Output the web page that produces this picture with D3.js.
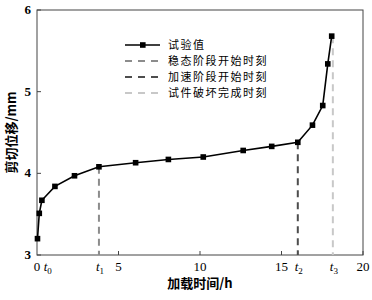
<!DOCTYPE html>
<html>
<head>
<meta charset="utf-8">
<script src="https://cdn.jsdelivr.net/npm/d3@7"></script>
<style>
body { margin: 0; background: #fff; }
text { font-family: "Liberation Serif", "DejaVu Serif", serif; }
.cjk { font-family: "Noto Sans CJK SC", sans-serif; }
</style>
</head>
<body>
<div id="chart"></div>
<script>
// test data: loading time (h) vs shear displacement (mm)
var timeH = [0.03, 0.14, 0.3, 1.1, 2.3, 3.8, 6.05, 8.06, 10.2, 12.65, 14.4, 16.0, 16.9, 17.53, 17.84, 18.08];
var dispMM = [3.2, 3.51, 3.67, 3.84, 3.97, 4.08, 4.13, 4.17, 4.2, 4.28, 4.33, 4.38, 4.59, 4.83, 5.34, 5.68];

// stage moments
var stageNames = ['稳态阶段开始时刻', '加速阶段开始时刻', '试件破坏完成时刻'];
var stageTimes = [3.8, 16.0, 18.15];
var stageTop = [4.08, 4.38, 5.68];
var stageColors = ['#8c8c8c', '#4d4d4d', '#c8c8c8'];

var xTicks = [5, 10, 15, 20];
var yTicks = [3, 4, 5, 6];
var tLabels = [{ t: 0.6, sub: '0' }, { t: 3.8, sub: '1' }, { t: 16.0, sub: '2' }, { t: 18.15, sub: '3' }];

var width = 372, height = 300;
var margin = { left: 37, right: 9, top: 10, bottom: 45 };

var svg = d3.select('#chart').append('svg')
    .attr('width', width)
    .attr('height', height);

var x = d3.scaleLinear().domain([0, 20]).range([margin.left, width - margin.right]);
var y = d3.scaleLinear().domain([3, 6]).range([height - margin.bottom, margin.top]);

/* frame */
svg.append('rect')
    .attr('x', x(0)).attr('y', y(6))
    .attr('width', x(20) - x(0)).attr('height', y(3) - y(6))
    .attr('fill', 'none').attr('stroke', '#444').attr('stroke-width', 1);

/* inward ticks */
svg.selectAll('.xt').data(xTicks.concat([3.8, 16.0])).enter().append('line')
    .attr('x1', function (d) { return x(d); }).attr('x2', function (d) { return x(d); })
    .attr('y1', y(3)).attr('y2', y(3) - 4)
    .attr('stroke', '#444');
svg.selectAll('.yt').data(yTicks).enter().append('line')
    .attr('x1', x(0)).attr('x2', x(0) + 4)
    .attr('y1', function (d) { return y(d); }).attr('y2', function (d) { return y(d); })
    .attr('stroke', '#444');

/* tick labels */
svg.selectAll('.yl').data(yTicks).enter().append('text')
    .attr('x', x(0) - 6).attr('y', function (d) { return y(d) + 4; })
    .attr('text-anchor', 'end').attr('font-size', 13).attr('font-weight', 'bold')
    .text(function (d) { return d; });
svg.selectAll('.xl').data([0].concat(xTicks)).enter().append('text')
    .attr('x', function (d) { return x(d); }).attr('y', y(3) + 16)
    .attr('text-anchor', 'middle').attr('font-size', 13)
    .text(function (d) { return d; });

var tl = svg.selectAll('.tl').data(tLabels).enter().append('text')
    .attr('x', function (d) { return x(d.t) + 1; }).attr('y', y(3) + 16)
    .attr('text-anchor', 'middle').attr('font-size', 13);
tl.append('tspan').attr('font-style', 'italic').text('t');
tl.append('tspan').attr('font-size', 9).attr('dy', 3).text(function (d) { return d.sub; });

/* axis titles */
svg.append('text').attr('class', 'cjk')
    .attr('x', (x(0) + x(20)) / 2).attr('y', 288)
    .attr('text-anchor', 'middle').attr('font-size', 13).attr('font-weight', 'bold')
    .text('加载时间/h');
svg.append('text').attr('class', 'cjk')
    .attr('transform', 'translate(16,' + ((y(3) + y(6)) / 2) + ') rotate(-90)')
    .attr('text-anchor', 'middle').attr('font-size', 13).attr('font-weight', 'bold')
    .text('剪切位移/mm');

/* stage dashed lines */
svg.selectAll('.stage').data(stageTimes).enter().append('line')
    .attr('x1', function (d) { return x(d); }).attr('x2', function (d) { return x(d); })
    .attr('y1', function (d, i) { return y(stageTop[i]); }).attr('y2', y(3))
    .attr('stroke', function (d, i) { return stageColors[i]; })
    .attr('stroke-width', 2).attr('stroke-dasharray', '7,5');

/* test curve */
var pts = timeH.map(function (t, i) { return [t, dispMM[i]]; });
var line = d3.line().x(function (d) { return x(d[0]); }).y(function (d) { return y(d[1]); });
svg.append('path').datum(pts)
    .attr('d', line).attr('fill', 'none').attr('stroke', '#000').attr('stroke-width', 1.6);
svg.selectAll('.pt').data(pts).enter().append('rect')
    .attr('x', function (d) { return x(d[0]) - 2.8; }).attr('y', function (d) { return y(d[1]) - 2.8; })
    .attr('width', 5.6).attr('height', 5.6).attr('fill', '#000');

/* legend */
var rowGap = 16;
var lg = svg.append('g').attr('transform', 'translate(125,45)');
lg.append('line').attr('x1', 0).attr('x2', 35).attr('stroke', '#000').attr('stroke-width', 1.6);
lg.append('rect').attr('x', 15).attr('y', -2.8).attr('width', 5.6).attr('height', 5.6);
lg.append('text').attr('class', 'cjk').attr('x', 43).attr('y', 4)
    .attr('font-size', 11).attr('letter-spacing', 1.5).text('试验值');
stageNames.forEach(function (name, i) {
    var gy = rowGap * (i + 1);
    lg.append('line').attr('x1', 0).attr('x2', 35).attr('y1', gy).attr('y2', gy)
        .attr('stroke', stageColors[i]).attr('stroke-width', 2).attr('stroke-dasharray', '7,6');
    lg.append('text').attr('class', 'cjk').attr('x', 43).attr('y', gy + 4)
        .attr('font-size', 11).attr('letter-spacing', 1.5).text(name);
});
</script>
</body>
</html>
